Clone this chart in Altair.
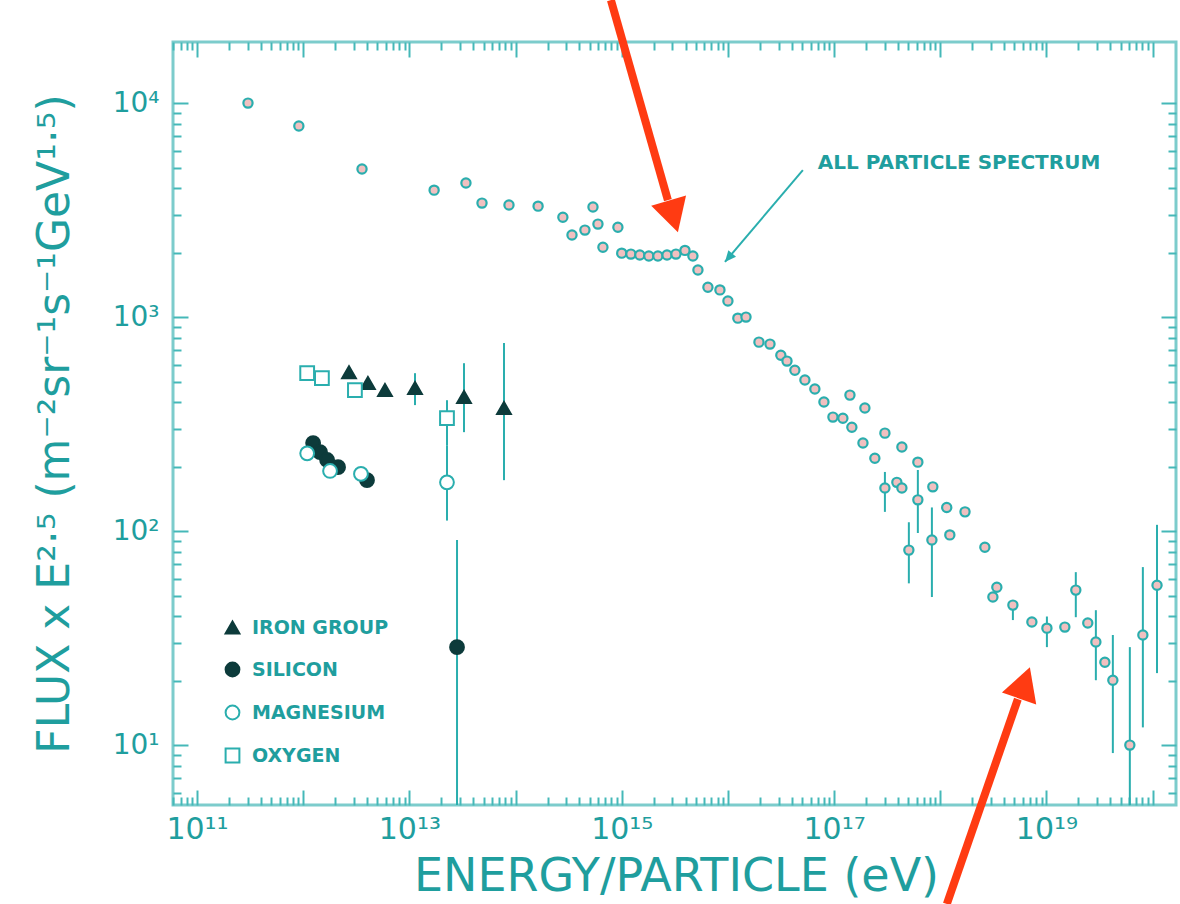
import altair as alt
import pandas as pd

# ---------------- data ----------------
# all-particle spectrum (energy in eV, flux x E^2.5)
ap_energy = [3.02e11, 9.1e11, 3.58e12, 1.71e13, 3.41e13, 4.83e13, 8.67e13, 1.63e14,
             2.79e14, 5.36e14, 3.40e14, 4.50e14, 5.97e14, 6.65e14, 9.2e14,
             1.0e15, 1.22e15, 1.48e15, 1.80e15, 2.19e15, 2.67e15, 3.24e15, 3.94e15, 4.68e15,
             5.22e15, 6.48e15, 8.41e15, 1.0e16, 1.24e16, 1.48e16, 1.96e16, 2.49e16,
             3.15e16, 3.60e16, 4.27e16, 5.31e16, 6.59e16, 8.02e16, 9.75e16, 1.21e17,
             1.47e17, 1.87e17, 2.42e17, 3.01e17, 3.90e17, 4.35e17,
             1.41e17, 1.95e17, 3.01e17, 4.35e17, 6.15e17, 8.51e17, 1.15e18, 1.71e18, 2.63e18,
             6.15e17, 1.23e18, 5.06e17, 8.34e17,
             3.41e18, 3.13e18, 4.83e18, 7.29e18, 1.01e19, 1.49e19, 1.89e19, 2.45e19,
             2.92e19, 3.55e19, 4.22e19, 6.10e19, 8.09e19, 1.10e20]
ap_flux = [1.0e4, 7.81e3, 4.92e3, 3.92e3, 4.23e3, 3.41e3, 3.34e3, 3.30e3,
           2.93e3, 3.27e3, 2.42e3, 2.55e3, 2.72e3, 2.12e3, 2.63e3,
           1.99e3, 1.97e3, 1.95e3, 1.93e3, 1.93e3, 1.95e3, 1.97e3, 2.05e3, 1.93e3,
           1.66e3, 1.38e3, 1.34e3, 1.19e3, 989, 1000, 764, 748,
           664, 623, 565, 508, 461, 401, 341, 337,
           306, 258, 219, 159, 169, 159,
           432, 376, 287, 247, 210, 161, 129, 123, 84,
           140, 96, 81.5, 90.8,
           54.7, 49.2, 45.1, 37.6, 35.2, 35.6, 53, 37.2,
           30.3, 24.4, 20.1, 10, 32.7, 55.9]

# error bars of the all-particle spectrum
ap_err_energy = [3.01e17, 6.15e17, 5.06e17, 8.34e17, 4.83e18, 1.01e19, 1.89e19,
                 2.92e19, 4.22e19, 6.10e19, 8.09e19, 1.10e20]
ap_err_low = [123, 98, 57, 49.2, 38.4, 28.7, 39.6, 20.1, 9.18, 5.0, 12.1, 21.7]
ap_err_high = [189, 193, 110, 129, 47.6, 39.9, 64.3, 42.7, 32.7, 28.7, 67.9, 107]

# direct measurements of element groups
el_name = ["IRON GROUP"] * 6 + ["SILICON"] * 6 + ["MAGNESIUM"] * 4 + ["OXYGEN"] * 4
el_energy = [2.70e12, 4.07e12, 5.89e12, 1.13e13, 3.27e13, 7.78e13,
             1.24e12, 1.44e12, 1.68e12, 2.13e12, 3.99e12, 2.81e13,
             1.09e12, 1.79e12, 3.50e12, 2.26e13,
             1.09e12, 1.50e12, 3.07e12, 2.26e13]
el_flux = [553, 492, 456, 466, 423, 376,
           258, 234, 215, 199, 173, 28.7,
           231, 191, 185, 169,
           547, 519, 456, 337]

el_err_name = ["IRON GROUP", "IRON GROUP", "IRON GROUP", "OXYGEN", "MAGNESIUM", "SILICON"]
el_err_energy = [1.13e13, 3.27e13, 7.78e13, 2.26e13, 2.26e13, 2.81e13]
el_err_low = [388, 290, 173, 252, 112, 5.0]
el_err_high = [547, 609, 757, 409, 252, 90.8]

legend_order = ["IRON GROUP", "SILICON", "MAGNESIUM", "OXYGEN"]

# annotation "ALL PARTICLE SPECTRUM" and its pointer
note_text = ["ALL PARTICLE SPECTRUM"]
note_energy = [7.03e16]
note_flux = [5.25e3]
pointer_from = [5.08e16, 4.86e3]
pointer_to = [9.38e15, 1.81e3]
pointer_angle = [220.3]

# red arrows (knee and ankle)
arrow_start_e = [7.91e14, 1.153e18]
arrow_start_f = [3.03e4, 1.81]
arrow_base_e = [2.72e15, 5.38e18]
arrow_base_f = [3.52e3, 16.4]
arrow_tip_e = [3.38e15, 6.98e18]
arrow_tip_f = [2.49e3, 23.1]
arrow_angle = [163.7, 19.1]

# axes
x_domain = [5.94e10, 1.66e20]
y_domain = [5.25, 19300]
x_decades = [1e11, 1e13, 1e15, 1e17, 1e19]
x_labels = ["10¹¹", "10¹³", "10¹⁵", "10¹⁷", "10¹⁹"]
y_decades = [10, 100, 1000, 10000]
y_labels = ["10¹", "10²", "10³", "10⁴"]

x_ticks = [m * 10.0 ** k for k in range(10, 21) for m in range(1, 10)
           if x_domain[0] < m * 10.0 ** k < x_domain[1]]
y_ticks = [m * 10.0 ** k for k in range(0, 5) for m in range(1, 10)
           if y_domain[0] < m * 10.0 ** k < y_domain[1]]

# ---------------- styling ----------------
W, H = 1003, 763
FONT = "DejaVu Sans"
TEAL = "#1f9e9e"
TICK = "#45b8b8"
FRAME = "#7ccccc"
MARK = "#2aaeae"
DARK = "#0d3b3b"
RED = "#ff3b12"


def label_expr(vals, labs):
    expr = "''"
    for v, l in zip(reversed(vals), reversed(labs)):
        expr = f"abs(datum.value / {v!r} - 1) < 1e-6 ? '{l}' : ({expr})"
    return expr


major_test = "abs(log(datum.value) / LN10 - round(log(datum.value) / LN10)) < 0.001"
tick_size = {"condition": {"test": major_test, "value": 15}, "value": 8}

xs = alt.Scale(type="log", domain=x_domain, nice=False)
ys = alt.Scale(type="log", domain=y_domain, nice=False)


def tick_axis(orient, offset, values):
    return alt.Axis(orient=orient, offset=offset, values=values, labels=False,
                    domain=False, grid=False, title=None, tickColor=TICK,
                    tickWidth=2, tickSize=tick_size)


ax_x_lab = alt.Axis(orient="bottom", values=x_decades, labelExpr=label_expr(x_decades, x_labels),
                    ticks=False, tickSize=0, domain=False, grid=False,
                    labelFont=FONT, labelFontSize=30, labelColor=TEAL, labelPadding=9,
                    labelBaseline="top",
                    title="ENERGY/PARTICLE (eV)", titleFont=FONT, titleFontSize=46,
                    titleFontWeight="normal", titleColor=TEAL, titleX=503, titleY=85,
                    titleBaseline="alphabetic", titleAlign="center")
ax_y_lab = alt.Axis(orient="left", values=y_decades, labelExpr=label_expr(y_decades, y_labels),
                    ticks=False, tickSize=0, domain=False, grid=False,
                    labelFont=FONT, labelFontSize=28, labelColor=TEAL, labelPadding=14,
                    title="FLUX x E²·⁵ (m⁻²sr⁻¹s⁻¹GeV¹·⁵)", titleFont=FONT, titleFontSize=44,
                    titleFontWeight="normal", titleColor=TEAL, titleAngle=270,
                    titleX=-105, titleY=H / 2, titleBaseline="alphabetic", titleAlign="center")

ap_df = pd.DataFrame({"E": ap_energy, "F": ap_flux})
ap_err_df = pd.DataFrame({"E": ap_err_energy, "lo": ap_err_low, "hi": ap_err_high})
el_df = pd.DataFrame({"element": el_name, "E": el_energy, "F": el_flux})
el_err_df = pd.DataFrame({"element": el_err_name, "E": el_err_energy,
                          "lo": el_err_low, "hi": el_err_high})
note_df = pd.DataFrame({"t": note_text, "E": note_energy, "F": note_flux})
pointer_df = pd.DataFrame({"E": [pointer_from[0]], "F": [pointer_from[1]],
                           "E2": [pointer_to[0]], "F2": [pointer_to[1]], "ang": pointer_angle})
arrow_df = pd.DataFrame({"E": arrow_start_e, "F": arrow_start_f,
                         "E2": arrow_base_e, "F2": arrow_base_f,
                         "Et": arrow_tip_e, "Ft": arrow_tip_f, "ang": arrow_angle})

# error bars of the all-particle spectrum (hosts inward ticks: bottom & left frame)
ap_err = alt.Chart(ap_err_df).mark_rule(color=MARK, strokeWidth=2, clip=True).encode(
    x=alt.X("E:Q", scale=xs, axis=tick_axis("top", -H, x_ticks)),
    y=alt.Y("lo:Q", scale=ys, axis=tick_axis("right", -W, y_ticks)),
    y2="hi:Q",
)

# all-particle points (hosts labelled axes)
ap_pts = alt.Chart(ap_df).mark_point(shape="circle", filled=True, fill="#f1c0c0", stroke=MARK,
                                     strokeWidth=2.2, size=85, opacity=1).encode(
    x=alt.X("E:Q", scale=xs, axis=ax_x_lab),
    y=alt.Y("F:Q", scale=ys, axis=ax_y_lab),
)

el_err = alt.Chart(el_err_df).mark_rule(color=MARK, strokeWidth=2, clip=True).encode(
    x=alt.X("E:Q", scale=xs, axis=None),
    y=alt.Y("lo:Q", scale=ys, axis=None),
    y2="hi:Q",
)

legend = alt.Legend(orient="none", legendX=50, legendY=576, title=None, padding=0,
                    labelFont=FONT, labelFontSize=19, labelFontWeight="bold", labelColor=TEAL,
                    symbolSize=190, symbolStrokeWidth=2, rowPadding=20, labelOffset=10)

# element points (hosts inward ticks: top & right frame)
el_pts = alt.Chart(el_df).mark_point(filled=True, size=190, strokeWidth=2, opacity=1).encode(
    x=alt.X("E:Q", scale=xs, axis=tick_axis("bottom", -H, x_ticks)),
    y=alt.Y("F:Q", scale=ys, axis=tick_axis("left", -W, y_ticks)),
    shape=alt.Shape("element:N", scale=alt.Scale(domain=legend_order,
                    range=["triangle-up", "circle", "circle", "square"]), legend=legend),
    fill=alt.Fill("element:N", scale=alt.Scale(domain=legend_order,
                  range=[DARK, DARK, "white", "white"]), legend=legend),
    stroke=alt.Stroke("element:N", scale=alt.Scale(domain=legend_order,
                      range=[DARK, DARK, MARK, MARK]), legend=legend),
)

note = alt.Chart(note_df).mark_text(align="left", baseline="middle", font=FONT, fontSize=20,
                                    fontWeight="bold", color=TEAL).encode(
    x=alt.X("E:Q", scale=xs, axis=None), y=alt.Y("F:Q", scale=ys, axis=None), text="t:N")

pointer = alt.Chart(pointer_df).mark_rule(color=MARK, strokeWidth=2).encode(
    x=alt.X("E:Q", scale=xs, axis=None), y=alt.Y("F:Q", scale=ys, axis=None),
    x2="E2:Q", y2="F2:Q")
pointer_head = alt.Chart(pointer_df).mark_point(shape="M0,0L0.45,1L-0.45,1Z", filled=True,
                                                color=MARK, size=500, opacity=1).encode(
    x=alt.X("E2:Q", scale=xs, axis=None), y=alt.Y("F2:Q", scale=ys, axis=None),
    angle=alt.Angle("ang:Q", scale=None))

arrows = alt.Chart(arrow_df).mark_rule(color=RED, strokeWidth=8, strokeCap="butt").encode(
    x=alt.X("E:Q", scale=xs, axis=None), y=alt.Y("F:Q", scale=ys, axis=None),
    x2="E2:Q", y2="F2:Q")
arrow_heads = alt.Chart(arrow_df).mark_point(shape="M0,0L0.55,1L-0.55,1Z", filled=True,
                                             color=RED, size=4356, opacity=1).encode(
    x=alt.X("Et:Q", scale=xs, axis=None), y=alt.Y("Ft:Q", scale=ys, axis=None),
    angle=alt.Angle("ang:Q", scale=None))

chart = alt.layer(
    ap_err, ap_pts, el_err, el_pts, note, pointer, pointer_head, arrows, arrow_heads
).resolve_axis(x="independent", y="independent").properties(
    width=W, height=H,
    autosize=alt.AutoSizeParams(type="none"),
    padding={"left": 173, "top": 42, "right": 4, "bottom": 99},
    background="white",
).configure_view(stroke=FRAME, strokeWidth=3)

chart.save("out.html", embed_options={"renderer": "svg", "actions": False})
